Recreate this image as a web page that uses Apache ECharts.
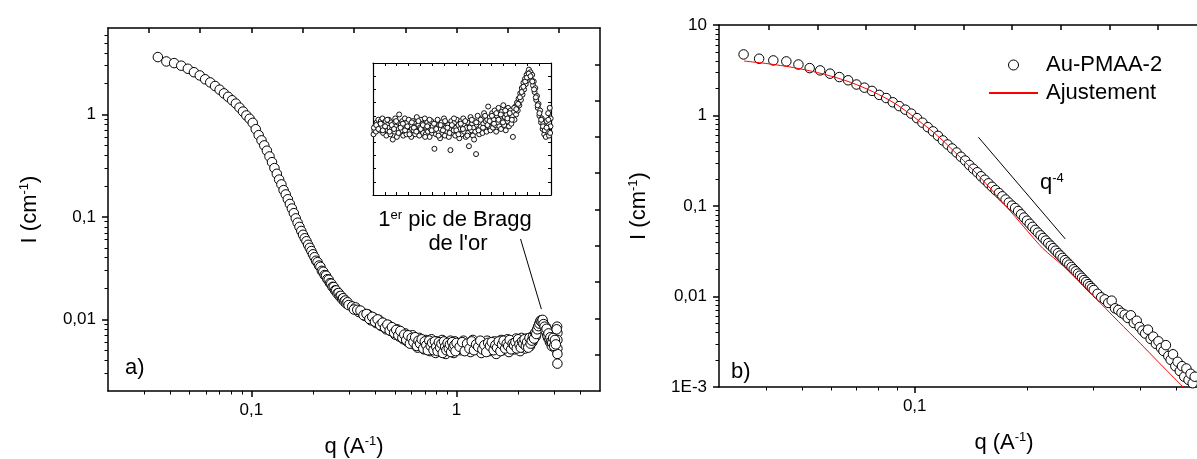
<!DOCTYPE html>
<html><head><meta charset="utf-8">
<script src="https://cdn.jsdelivr.net/npm/echarts@6/dist/echarts.min.js"></script>
<style>html,body{margin:0;padding:0;background:#fff}#c{width:1197px;height:459px}</style>
</head><body><div id="c"></div>
<script>
// ---------- Panel a) : SAXS curve with Bragg peak ----------
const pointsA = [
[0.035,3.64],[0.0385,3.30],[0.042,3.18],[0.0455,3.00],[0.049,2.80],[0.0525,2.59],[0.056,2.41],[0.0595,2.21],[0.063,2.06],[0.0665,1.90],
[0.07,1.75],[0.0735,1.61],[0.077,1.49],[0.0805,1.38],[0.084,1.28],[0.0875,1.17],[0.091,1.07],[0.0945,0.98],[0.098,0.91],[0.1015,0.83],
[0.105,0.72],[0.1085,0.63],[0.112,0.56],[0.1155,0.50],[0.119,0.444],[0.1225,0.39],[0.126,0.343],[0.1295,0.30],[0.133,0.264],[0.1365,0.232],
[0.14,0.208],[0.1435,0.183],[0.147,0.166],[0.1505,0.149],[0.154,0.134],[0.1575,0.121],[0.161,0.109],[0.1645,0.097],[0.168,0.088],[0.1715,0.080],
[0.175,0.073],[0.1785,0.067],[0.182,0.062],[0.1855,0.058],[0.189,0.0535],[0.1925,0.050],[0.196,0.0465],[0.1995,0.0432],[0.203,0.0405],[0.2065,0.0374],
[0.21,0.0362],[0.2135,0.0336],[0.217,0.0326],[0.2205,0.0298],[0.224,0.0292],[0.2275,0.0271],[0.231,0.0267],[0.2345,0.0247],[0.238,0.0244],[0.2415,0.0226],
[0.245,0.0223],[0.2485,0.0208],[0.252,0.0207],[0.2555,0.0192],[0.259,0.0192],[0.2625,0.0179],[0.266,0.0181],[0.2695,0.0168],[0.273,0.0170],[0.2765,0.0158],
[0.28,0.0161],[0.2835,0.0150],[0.287,0.0153],[0.2905,0.0143],[0.294,0.0147],[0.2975,0.0138],
[0.31,0.0134],[0.322,0.0131],[0.334,0.0118],[0.346,0.0117],[0.358,0.0108],[0.37,0.0112],[0.382,0.0098],[0.394,0.0104],[0.406,0.0092],[0.418,0.0099],
[0.43,0.0086],[0.442,0.0091],[0.454,0.0080],[0.466,0.0088],[0.478,0.0077],[0.49,0.0082],[0.502,0.0071],[0.514,0.0080],[0.526,0.0068],[0.538,0.0074],
[0.55,0.0064],[0.562,0.0073],[0.574,0.0061],[0.586,0.0068],[0.598,0.0059],[0.61,0.0070],[0.622,0.0057],[0.634,0.0064],[0.646,0.0053],[0.658,0.0066],
[0.67,0.0055],[0.682,0.0062],[0.694,0.0051],[0.706,0.0063],[0.718,0.0054],[0.73,0.0060],[0.742,0.0049],[0.754,0.0064],[0.766,0.0052],[0.778,0.0058],
[0.79,0.0047],[0.802,0.0061],[0.814,0.0053],[0.826,0.0057],[0.838,0.0048],[0.85,0.0063],[0.862,0.0051],[0.874,0.0058],[0.886,0.0046],[0.898,0.0060],
[0.91,0.0054],[0.922,0.0049],[0.934,0.0062],[0.946,0.0052],[0.958,0.0057],[0.97,0.0047],[0.982,0.0061],[0.994,0.0053],
[1.02,0.0058],[1.05,0.0050],[1.08,0.0062],[1.11,0.0053],[1.14,0.0057],[1.17,0.0048],[1.2,0.0063],[1.23,0.0055],[1.26,0.0051],[1.29,0.0060],
[1.32,0.0047],[1.35,0.0058],[1.38,0.0054],[1.41,0.0062],[1.44,0.0049],[1.47,0.0057],[1.5,0.0052],[1.53,0.0061],[1.56,0.0046],[1.59,0.0058],
[1.62,0.0055],[1.65,0.0063],[1.68,0.0050],[1.71,0.0059],[1.74,0.0053],[1.77,0.0064],[1.8,0.0048],[1.83,0.0060],[1.86,0.0055],[1.89,0.0062],
[1.92,0.0051],[1.95,0.0065],[1.98,0.0054],[2.01,0.0061],[2.04,0.0049],[2.07,0.0066],[2.1,0.0056],[2.13,0.0062],[2.16,0.0052],[2.19,0.0065],
[2.22,0.0057],[2.25,0.0063],[2.28,0.0055],[2.31,0.0067],[2.34,0.0060],[2.37,0.0064],[2.4,0.0071],[2.43,0.0068],[2.46,0.0077],[2.49,0.0083],
[2.52,0.0088],[2.55,0.0094],[2.58,0.0098],[2.61,0.0096],[2.64,0.0093],[2.67,0.0087],[2.7,0.0080],[2.73,0.0084],[2.76,0.0072],[2.79,0.0066],
[2.82,0.0076],[2.85,0.0060],[2.88,0.0070],[2.91,0.0055],[2.94,0.0064],[2.97,0.0058],[3.0,0.0068],[3.03,0.0052],[3.06,0.0061],[3.09,0.0085],
[3.1,0.0074],[3.1,0.0063],[3.1,0.0052],[3.1,0.0046],[3.1,0.0037]
];
// second (interleaved) high-q measurements of panel a
const pointsA2 = [
[0.316,0.0125],[0.328,0.0124],[0.34,0.0122],[0.352,0.0110],[0.364,0.0113],[0.376,0.0101],[0.388,0.0106],[0.4,0.0095],[0.412,0.0100],[0.424,0.0088],
[0.436,0.0093],[0.448,0.0083],[0.46,0.0089],[0.472,0.0078],[0.484,0.0084],[0.496,0.0074],[0.508,0.0079],[0.52,0.0070],[0.532,0.0077],[0.544,0.0066],
[0.556,0.0071],[0.568,0.0063],[0.58,0.0070],[0.592,0.0058],[0.604,0.0066],[0.616,0.0060],[0.628,0.0067],[0.64,0.0055],[0.652,0.0062],[0.664,0.0058],
[0.676,0.0064],[0.688,0.0052],[0.7,0.0061],[0.712,0.0056],[0.724,0.0050],[0.736,0.0062],[0.748,0.0055],[0.76,0.0059],[0.772,0.0050],[0.784,0.0061],
[0.796,0.0054],[0.808,0.0049],[0.82,0.0060],[0.832,0.0053],[0.844,0.0058],[0.856,0.0047],[0.868,0.0061],[0.88,0.0054],[0.892,0.0050],[0.904,0.0059],
[0.916,0.0052],[0.928,0.0057],[0.94,0.0048],[0.952,0.0060],[0.964,0.0053],[0.976,0.0056],[0.988,0.0049],[1.0,0.0059],
[1.035,0.0054],[1.065,0.0060],[1.095,0.0049],[1.125,0.0058],[1.155,0.0052],[1.185,0.0061],[1.215,0.0050],[1.245,0.0057],[1.275,0.0054],[1.305,0.0062],
[1.335,0.0051],[1.365,0.0056],[1.395,0.0048],[1.425,0.0059],[1.455,0.0055],[1.485,0.0060],[1.515,0.0050],[1.545,0.0056],[1.575,0.0053],[1.605,0.0061],
[1.635,0.0049],[1.665,0.0057],[1.695,0.0062],[1.725,0.0052],[1.755,0.0058],[1.785,0.0055],[1.815,0.0063],[1.845,0.0051],[1.875,0.0058],[1.905,0.0056],
[1.935,0.0060],[1.965,0.0052],[1.995,0.0064],[2.025,0.0057],[2.055,0.0053],[2.085,0.0061],[2.115,0.0058],[2.145,0.0064],[2.175,0.0055],[2.205,0.0060],
[2.235,0.0053],[2.265,0.0066],[2.295,0.0058],[2.325,0.0062],[2.355,0.0068],[2.385,0.0065],[2.415,0.0074],[2.445,0.0072],[2.475,0.0080],[2.505,0.0086],
[2.535,0.0091],[2.565,0.0097],[2.595,0.0095],[2.625,0.0099],[2.655,0.0090],[2.685,0.0085],[2.715,0.0078],[2.745,0.0081],[2.775,0.0069],[2.805,0.0073],
[2.835,0.0064],[2.865,0.0067],[2.895,0.0061],[2.925,0.0059],[2.955,0.0066],[2.985,0.0055],[3.015,0.0063],[3.045,0.0057],[3.075,0.0080]
];
// inset (zoom on the first Bragg peak, arbitrary linear units)
const insetPoints = [
[0.3,46],[0.8,49],[1.2,52],[1.7,48],[2.1,55],[2.6,51],[3.0,57],[3.5,53],[3.9,49],[4.4,56],[4.8,52],[5.3,58],[5.7,47],[6.2,54],[6.6,50],[7.1,56],[7.5,45],[8.0,53],[8.4,49],[8.9,57],
[9.3,51],[9.8,46],[10.2,55],[10.7,50],[11.1,42],[11.6,54],[12.0,48],[12.5,58],[12.9,52],[13.4,44],[13.8,55],[14.3,50],[14.7,61],[15.2,47],[15.6,53],[16.1,49],[16.5,56],[17.0,45],[17.4,52],[17.9,58],
[18.3,50],[18.8,46],[19.2,55],[19.7,51],[20.1,57],[20.6,48],[21.0,53],[21.5,44],[21.9,50],[22.4,56],[22.8,49],[23.3,54],[23.7,46],[24.2,52],[24.6,59],[25.1,48],[25.5,53],[26.0,45],[26.4,51],[26.9,57],
[27.3,49],[27.8,54],[28.2,47],[28.7,52],[29.1,58],[29.6,46],[30.0,51],[30.5,55],[30.9,48],[31.4,53],[31.8,44],[32.3,50],[32.7,56],[33.2,47],[33.6,52],[34.1,49],[34.5,35],[35.0,54],[35.4,46],[35.9,51],
[36.3,57],[36.8,48],[37.2,53],[37.7,43],[38.1,50],[38.6,55],[39.0,47],[39.5,52],[39.9,58],[40.4,45],[40.8,51],[41.3,54],[41.7,48],[42.2,53],[42.6,44],[43.1,50],[43.5,34],[44.0,56],[44.4,47],[44.9,52],
[45.3,49],[45.8,55],[46.2,45],[46.7,51],[47.1,57],[47.6,48],[48.0,53],[48.5,43],[48.9,50],[49.4,56],[49.8,46],[50.3,52],[50.7,58],[51.2,48],[51.6,53],[52.1,44],[52.5,51],[53.0,55],[53.4,47],[53.9,37],
[54.3,52],[54.8,59],[55.2,49],[55.7,54],[56.1,45],[56.6,51],[57.0,56],[57.5,48],[57.9,31],[58.4,53],[58.8,60],[59.3,50],[59.7,46],[60.2,55],[60.6,52],[61.1,58],[61.5,47],[62.0,54],[62.4,62],[62.9,50],
[63.3,56],[63.8,48],[64.2,57],[64.7,67],[65.1,52],[65.6,59],[66.0,49],[66.5,55],[66.9,62],[67.4,51],[67.8,57],[68.3,64],[68.7,53],[69.2,48],[69.6,60],[70.1,55],[70.5,66],[71.0,52],[71.4,58],[71.9,50],
[72.3,63],[72.8,56],[73.2,68],[73.7,53],[74.1,59],[74.6,49],[75.0,61],[75.5,56],[75.9,66],[76.4,52],[76.8,59],[77.3,64],[77.7,54],[78.2,60],[78.6,44],[79.1,63],[79.5,57],[80.0,67],[80.4,61],[80.9,70],
[81.3,64],[81.8,73],[82.2,68],[82.7,77],[83.1,72],[83.6,81],[84.0,76],[84.5,85],[84.9,80],[85.4,88],[85.8,84],[86.3,91],[86.7,87],[87.2,93],[87.6,95],[88.1,90],[88.5,93],[89.0,87],[89.4,91],[89.9,83],
[90.3,86],[90.8,78],[91.2,81],[91.7,72],[92.1,75],[92.6,66],[93.0,69],[93.5,60],[93.9,64],[94.4,55],[94.8,58],[95.3,50],[95.7,54],[96.2,46],[96.6,52],[97.1,44],[97.5,56],[98.0,48],[98.4,62],[98.9,45],
[99.3,66],[99.7,52],[99.8,58]
];
const insetPoints2 = [
[0.5,51],[1.8,53],[3.0,50],[4.3,54],[5.5,49],[6.8,52],[8.0,57],[9.3,48],[10.5,53],[11.8,50],[13.0,56],[14.3,47],[15.5,51],[16.8,54],[18.0,49],[19.3,52],[20.5,46],[21.8,55],[23.0,51],[24.3,48],
[25.5,56],[26.8,50],[28.0,53],[29.3,44],[30.5,52],[31.8,57],[33.0,49],[34.3,54],[35.5,50],[36.8,45],[38.0,53],[39.3,49],[40.5,56],[41.8,51],[43.0,47],[44.3,53],[45.5,58],[46.8,49],[48.0,46],[49.3,54],
[50.5,50],[51.8,56],[53.0,45],[54.3,51],[55.5,57],[56.8,42],[58.0,55],[59.3,49],[60.5,57],[61.8,51],[63.0,60],[64.3,53],[65.5,56],[66.8,60],[68.0,54],[69.3,62],[70.5,57],[71.8,61],[73.0,55],[74.3,64],
[75.5,58],[76.8,62],[78.0,57],[79.3,66],[80.5,65],[81.5,69],[82.5,74],[83.5,78],[84.5,82],[85.5,86],[86.5,89],[87.5,92],[88.5,90],[89.5,86],[90.5,80],[91.5,74],[92.5,68],[93.5,62],[94.5,57],[95.5,52],
[96.5,49],[97.5,51],[98.5,57],[99.5,47]
];
// ---------- Panel b) : Au-PMAA-2 and fit ----------
const pointsB = [
[0.0349,4.73],[0.0384,4.24],[0.0419,4.06],[0.0454,3.96],[0.0489,3.66],[0.0524,3.34],[0.0559,3.15],[0.0594,2.90],[0.0629,2.66],[0.0664,2.45],
[0.0699,2.20],[0.0734,2.03],[0.0769,1.87],[0.0804,1.69],[0.0839,1.56],[0.0874,1.40],[0.0909,1.27],[0.0944,1.16],[0.0979,1.05],[0.1014,0.935],
[0.1049,0.833],[0.1084,0.743],[0.1119,0.668],[0.1154,0.596],[0.1189,0.530],[0.1224,0.478],[0.1259,0.432],[0.1294,0.390],[0.1329,0.350],[0.1364,0.318],
[0.1399,0.284],[0.1434,0.258],[0.1469,0.236],[0.1504,0.213],[0.1539,0.195],[0.1574,0.178],[0.1609,0.163],[0.1644,0.150],[0.1679,0.139],[0.1714,0.128],
[0.1749,0.118],[0.1784,0.109],[0.1819,0.101],[0.1854,0.095],[0.1889,0.088],[0.1924,0.0810],[0.1959,0.0745],[0.1994,0.0688],[0.2029,0.0636],[0.2064,0.0588],
[0.2099,0.0545],[0.2134,0.0508],[0.2169,0.0474],[0.2204,0.0443],[0.2239,0.0415],[0.2274,0.0388],[0.2309,0.0364],[0.2344,0.0342],[0.2379,0.0321],[0.2414,0.0301],
[0.2449,0.0284],[0.2484,0.0267],[0.2519,0.0252],[0.2554,0.0238],[0.2589,0.0225],[0.2624,0.0212],[0.2659,0.0200],[0.2694,0.0190],[0.2729,0.0179],[0.2764,0.0170],
[0.2799,0.0161],[0.2834,0.0152],[0.2869,0.0145],[0.2904,0.0137],[0.2939,0.0130],[0.2974,0.0124],[0.3009,0.0118],
[0.3079,0.0107],[0.3149,0.0098],[0.3219,0.0093],[0.3289,0.0085],[0.3359,0.0090],[0.3429,0.0074],[0.3499,0.0071],[0.3569,0.0066],[0.3639,0.0063],[0.3709,0.0058],
[0.3779,0.0062],[0.3849,0.0051],[0.3919,0.0054],[0.3989,0.0046],[0.4059,0.0042],[0.4129,0.0039],[0.4199,0.0043],[0.4269,0.0034],[0.4339,0.0036],[0.4409,0.0030],
[0.4479,0.0032],[0.4549,0.0027],[0.4619,0.0025],[0.4689,0.0029],[0.4759,0.0022],[0.4829,0.0020],[0.4899,0.0023],[0.4969,0.0017],[0.5039,0.0019],[0.5109,0.0015],
[0.5179,0.0017],[0.5249,0.0013],[0.5319,0.0016],[0.5389,0.0012],[0.5459,0.0014],[0.5529,0.0011],[0.5599,0.0013]
];
const fitB = [
[0.035,4.0],[0.04,3.76],[0.045,3.51],[0.05,3.25],[0.055,2.98],[0.06,2.71],[0.065,2.45],[0.07,2.19],[0.075,1.94],[0.08,1.71],
[0.085,1.50],[0.09,1.30],[0.095,1.11],[0.1,0.95],[0.105,0.81],[0.11,0.70],[0.12,0.51],[0.13,0.37],[0.14,0.275],[0.15,0.205],
[0.16,0.153],[0.17,0.115],[0.18,0.088],[0.19,0.068],[0.2,0.053],[0.22,0.034],[0.25,0.0215],[0.28,0.0136],[0.3,0.0102],[0.35,0.0053],
[0.4,0.00305],[0.45,0.00185],[0.5,0.00119],[0.55,0.0008]
];
const slopeGuideB = [[0.148,0.575],[0.2525,0.0433]];
const braggArrowA = [[2.59,0.0126],[2.05,0.061]];

// ---------- tick values ----------
const xLabelsA = [0.1, 1];
const xMinorA = [0.03,0.04,0.05,0.06,0.07,0.08,0.09,0.2,0.3,0.4,0.5,0.6,0.7,0.8,0.9,2,3,4];
const xTopA = [0.0316,0.0562,0.1,0.1778,0.3162,0.5623,1,1.778,3.162];
const yLabelsA = [0.01, 0.1, 1];
const yMinorA = [0.003,0.004,0.005,0.006,0.007,0.008,0.009,0.02,0.03,0.04,0.05,0.06,0.07,0.08,0.09,0.2,0.3,0.4,0.5,0.6,0.7,0.8,0.9,2,3,4,5,6];
const yRightA = [0.00452,0.01023,0.02313,0.05231,0.1183,0.2676,0.6051,1.368,3.095];
const xLabelsB = [0.1, 1];
const xMinorB = [0.04,0.05,0.06,0.07,0.08,0.09,0.2,0.3,0.4,0.5,0.6,0.7,0.8,0.9];
const xTopB = [0.0407,0.055,0.0741,0.1,0.1349,0.182,0.2455,0.3311,0.4467,0.6026,0.8128];
const yLabelsB = [0.001, 0.01, 0.1, 1, 10];
const yMinorB = [0.002,0.003,0.004,0.005,0.006,0.007,0.008,0.009,0.02,0.03,0.04,0.05,0.06,0.07,0.08,0.09,0.2,0.3,0.4,0.5,0.6,0.7,0.8,0.9,2,3,4,5,6,7,8,9];

const FONT = "'Liberation Sans', Arial, sans-serif";
const BLACK = '#000';

function decLabel(v) {
  const l = Math.log10(v), e = Math.round(l);
  if (Math.abs(l - e) > 1e-6) return '';
  if (e <= -3) return '1E' + e;
  return (e >= 0 ? String(Math.pow(10, e)) : Math.pow(10, e).toFixed(-e)).replace('.', ',');
}
const supRich = { s: { fontSize: 13, fontFamily: FONT, color: BLACK, verticalAlign: 'top', lineHeight: 14 } };

function mainAxis(kind, grid, min, max, pos, labels, name, nameGap) {
  return {
    type: 'log', logBase: 10, gridIndex: grid, min: min, max: max, position: pos,
    axisLine: { show: true, onZero: false, lineStyle: { color: BLACK, width: 1.5 } },
    axisTick: { show: true, inside: false, length: 6, customValues: labels, lineStyle: { color: BLACK, width: 1.5 } },
    axisLabel: { show: true, customValues: labels, formatter: decLabel, fontSize: 17, fontFamily: FONT, color: BLACK, margin: kind === 'x' ? 11 : 12 },
    splitLine: { show: false }, minorTick: { show: false },
    name: name, nameLocation: 'middle', nameGap: nameGap,
    nameTextStyle: { fontSize: 22, fontFamily: FONT, color: BLACK, lineHeight: 24, rich: supRich }
  };
}
function minorAxis(grid, min, max, pos, vals) {
  return {
    type: 'log', logBase: 10, gridIndex: grid, min: min, max: max, position: pos,
    axisLine: { show: false, onZero: false },
    axisTick: { show: true, inside: false, length: 3.5, customValues: vals, lineStyle: { color: BLACK, width: 1 } },
    axisLabel: { show: false }, splitLine: { show: false }
  };
}
function mirrorAxis(grid, min, max, pos, vals) {
  return {
    type: 'log', logBase: 10, gridIndex: grid, min: min, max: max, position: pos,
    axisLine: { show: true, onZero: false, lineStyle: { color: BLACK, width: 1.5 } },
    axisTick: { show: true, inside: true, length: 5, customValues: vals, lineStyle: { color: BLACK, width: 1.5 } },
    axisLabel: { show: false }, splitLine: { show: false }
  };
}
function insetAxis(pos, interval) {
  return {
    type: 'value', gridIndex: 2, min: 0, max: 100, interval: interval, position: pos,
    axisLine: { show: true, onZero: false, lineStyle: { color: BLACK, width: 1.2 } },
    axisTick: { show: true, inside: true, length: 3, lineStyle: { color: BLACK, width: 1 } },
    axisLabel: { show: false }, splitLine: { show: false }
  };
}
const openCircle = { color: '#fff', borderColor: BLACK, borderWidth: 1, opacity: 1 };

const option = {
  animation: false,
  backgroundColor: '#fff',
  grid: [
    { left: 108, top: 28, width: 492, height: 363, outerBoundsMode: 'none', containLabel: false },
    { left: 719, top: 25, width: 570, height: 362, outerBoundsMode: 'none', containLabel: false },
    { left: 373, top: 63, width: 178, height: 132, outerBoundsMode: 'none', containLabel: false }
  ],
  xAxis: [
    mainAxis('x', 0, 0.02, 5, 'bottom', xLabelsA, 'q (A{s|-1})', 44),
    minorAxis(0, 0.02, 5, 'bottom', xMinorA),
    mirrorAxis(0, 0.02, 5, 'top', xTopA),
    mainAxis('x', 1, 0.03, 1, 'bottom', xLabelsB, 'q (A{s|-1})', 44),
    minorAxis(1, 0.03, 1, 'bottom', xMinorB),
    mirrorAxis(1, 0.03, 1, 'top', xTopB),
    insetAxis('bottom', 100 / 15),
    insetAxis('top', 100 / 15)
  ],
  yAxis: [
    mainAxis('y', 0, 0.002, 7, 'left', yLabelsA, 'I (cm{s|-1})', 66),
    minorAxis(0, 0.002, 7, 'left', yMinorA),
    mirrorAxis(0, 0.002, 7, 'right', yRightA),
    mainAxis('y', 1, 0.001, 10, 'left', yLabelsB, 'I (cm{s|-1})', 68),
    minorAxis(1, 0.001, 10, 'left', yMinorB),
    mirrorAxis(1, 0.001, 10, 'right', yLabelsB),
    insetAxis('left', 10),
    insetAxis('right', 10)
  ],
  legend: {
    data: [
      { name: 'Au-PMAA-2', icon: 'circle', itemStyle: { color: '#fff', borderColor: BLACK, borderWidth: 1 } },
      { name: 'Ajustement', itemStyle: { opacity: 0, color: 'rgba(0,0,0,0)', borderWidth: 0 } }
    ],
    orient: 'vertical', left: 988, top: 54, padding: 0,
    itemWidth: 49, itemHeight: 10, itemGap: 6, selectedMode: false,
    textStyle: { fontSize: 22, fontFamily: FONT, color: BLACK, padding: [0, 0, 0, 3] }
  },
  series: [
    {
      name: 'a', type: 'scatter', xAxisIndex: 0, yAxisIndex: 0, data: pointsA.concat(pointsA2),
      symbol: 'circle', symbolSize: 9.5, itemStyle: openCircle,
      markLine: {
        silent: true, symbol: ['none', 'arrow'], symbolSize: [0, 10], animation: false,
        lineStyle: { color: BLACK, width: 1, type: 'solid' }, label: { show: false },
        data: [[{ coord: braggArrowA[0] }, { coord: braggArrowA[1] }]]
      }
    },
    {
      name: 'inset', type: 'scatter', xAxisIndex: 6, yAxisIndex: 6, data: insetPoints.concat(insetPoints2),
      symbol: 'circle', symbolSize: 5,
      itemStyle: { color: '#fff', borderColor: '#111', borderWidth: 1, opacity: 1 }
    },
    {
      name: 'Au-PMAA-2', type: 'scatter', xAxisIndex: 3, yAxisIndex: 3, data: pointsB,
      symbol: 'circle', symbolSize: 9.5, itemStyle: openCircle
    },
    {
      name: 'Ajustement', type: 'line', xAxisIndex: 3, yAxisIndex: 3, data: fitB,
      symbol: 'none', smooth: 0.3, z: 5,
      lineStyle: { color: '#ff0000', width: 1 }, itemStyle: { color: '#ff0000' }
    },
    {
      name: 'q-4 guide', type: 'line', xAxisIndex: 3, yAxisIndex: 3, data: slopeGuideB,
      symbol: 'none', lineStyle: { color: BLACK, width: 1 }, itemStyle: { color: BLACK }
    }
  ],
  graphic: [
    { type: 'text', x: 455, y: 220, style: { text: '1{s|er} pic de Bragg', fontSize: 22, fontFamily: FONT, fill: BLACK, align: 'center', verticalAlign: 'middle', rich: supRich } },
    { type: 'text', x: 458, y: 244, style: { text: "de l'or", fontSize: 22, fontFamily: FONT, fill: BLACK, align: 'center', verticalAlign: 'middle' } },
    { type: 'text', x: 125, y: 368, style: { text: 'a)', fontSize: 22, fontFamily: FONT, fill: BLACK, align: 'left', verticalAlign: 'middle' } },
    { type: 'text', x: 731, y: 372, style: { text: 'b)', fontSize: 22, fontFamily: FONT, fill: BLACK, align: 'left', verticalAlign: 'middle' } },
    { type: 'text', x: 1040, y: 183, style: { text: 'q{s|-4}', fontSize: 22, fontFamily: FONT, fill: BLACK, align: 'left', verticalAlign: 'middle', rich: supRich } }
  ]
};
const chart = echarts.init(document.getElementById('c'), null, { renderer: 'canvas', width: 1197, height: 459 });
chart.setOption(option);
</script>
</body></html>
